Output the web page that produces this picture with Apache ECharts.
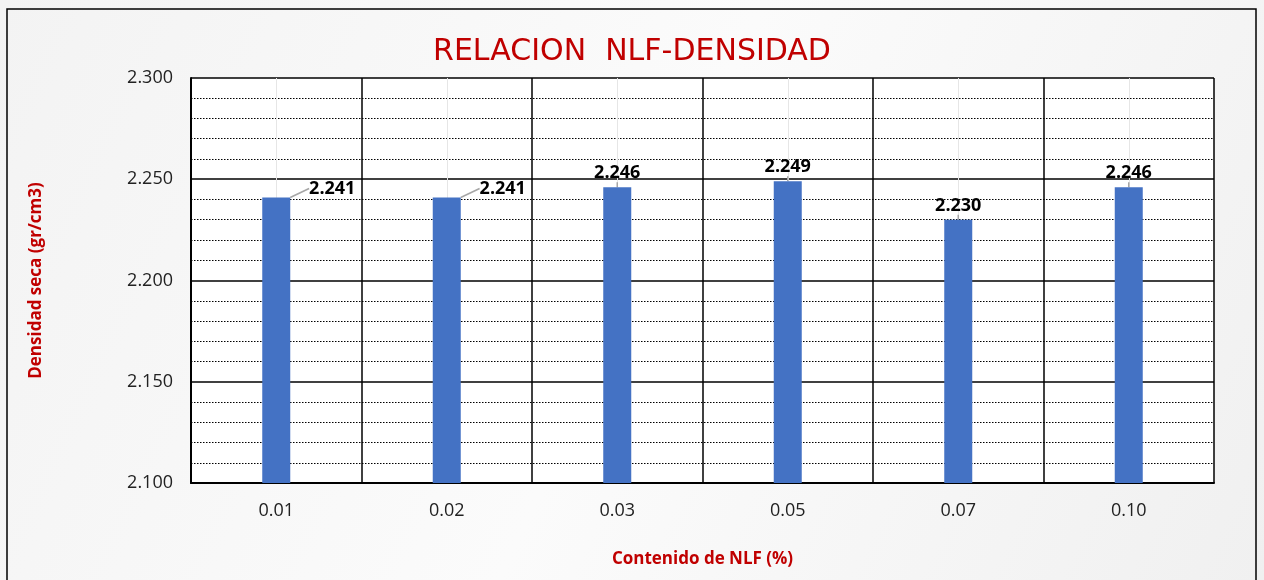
<!DOCTYPE html>
<html>
<head>
<meta charset="utf-8">
<script src="https://cdn.jsdelivr.net/npm/echarts@6/dist/echarts.min.js"></script>
<style>
  html, body { margin: 0; padding: 0; }
  #grafico { width: 1264px; height: 580px; }
</style>
</head>
<body>
<div id="grafico"></div>
<script>
var categorias = ['0.01', '0.02', '0.03', '0.05', '0.07', '0.10'];
var densidad = [2.241, 2.241, 2.246, 2.249, 2.230, 2.246];
var yMin = 2.1, yMax = 2.3, yPaso = 0.05;

var dom = document.getElementById("grafico");
var myChart = echarts.init(dom);
var fuente = '"Open Sans", "Noto Sans", sans-serif';
var rojo = '#C00000';

option = {
    backgroundColor: new echarts.graphic.LinearGradient(0, 0, 1, 1, [
        {offset: 0, color: '#f3f3f3'},
        {offset: 0.5, color: '#fbfbfb'},
        {offset: 1, color: '#f0f0f0'}
    ]),
    textStyle: { fontFamily: fuente },
    graphic: [{
        type: 'rect',
        shape: { x: 7, y: 9, width: 1249, height: 600 },
        style: { fill: 'none', stroke: '#000', lineWidth: 1.5 },
        z: -1
    }],
    title: {
        text: 'RELACION  NLF-DENSIDAD',
        left: 'center',
        top: 32,
        textStyle: { color: rojo, fontSize: 30, fontWeight: 'normal', fontFamily: '"DejaVu Sans", sans-serif' }
    },
    grid: { left: 191, right: 50, top: 78, bottom: 97, show: true, backgroundColor: '#fff', borderWidth: 0 },
    xAxis: {
        type: 'category',
        data: categorias,
        name: 'Contenido de NLF (%)',
        nameLocation: 'middle',
        nameGap: 68,
        nameTextStyle: { color: rojo, fontWeight: 'bold', fontSize: 17 },
        axisLine: { lineStyle: { color: '#000', width: 2 } },
        axisTick: { alignWithLabel: true, inside: true, length: 5, lineStyle: { color: '#000', width: 1.5 } },
        axisLabel: { color: '#222', fontSize: 18, margin: 19 },
        splitLine: { show: true, lineStyle: { color: '#000', width: 1.5 } }
    },
    yAxis: {
        type: 'value',
        min: yMin,
        max: yMax,
        interval: yPaso,
        name: 'Densidad seca (gr/cm3)',
        nameLocation: 'middle',
        nameGap: 146,
        nameTextStyle: { color: rojo, fontWeight: 'bold', fontSize: 17 },
        axisLine: { show: true, lineStyle: { color: '#000', width: 2 } },
        axisTick: { show: false },
        axisLabel: { color: '#222', fontSize: 18, margin: 18, formatter: function (v) { return v.toFixed(3); } },
        splitLine: { show: true, lineStyle: { color: '#000', width: 1.5 } },
        minorTick: { show: false, splitNumber: 5 },
        minorSplitLine: { show: true, lineStyle: { color: '#000', width: 1.2, type: [1.5, 1.5] } }
    },
    series: [{
        type: 'bar',
        data: densidad,
        barWidth: 28,
        itemStyle: { color: '#4472C4' },
        label: {
            show: true,
            position: 'top',
            distance: 5,
            color: '#000',
            fontWeight: 'bold',
            fontSize: 18,
            formatter: function (p) { return p.value.toFixed(3); }
        },
        labelLayout: function (p) {
            if (p.dataIndex < 2) { return { dx: 56, dy: 5 }; }
            return {};
        },
        labelLine: { show: true, lineStyle: { color: '#a6a6a6', width: 1.5 } },
        markLine: {
            silent: true,
            symbol: 'none',
            label: { show: false },
            lineStyle: { color: '#e6e6e6', width: 1, type: 'solid' },
            data: categorias.map(function (c) { return { xAxis: c }; }),
            z: 1
        },
        z: 3
    }]
};
if (option && typeof option === "object") {
    myChart.setOption(option, true);
}
</script>
</body>
</html>
